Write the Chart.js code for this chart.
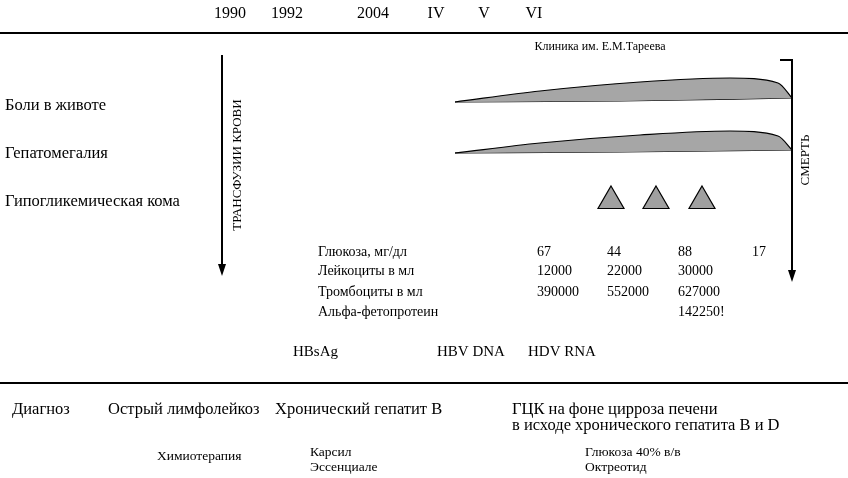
<!DOCTYPE html>
<html><head><meta charset="utf-8">
<script src="https://cdn.jsdelivr.net/npm/chart.js@4"></script>
<style>body{margin:0;background:#fff}#wrap{width:848px;height:478px}</style>
</head><body><div id="wrap"><canvas id="c"></canvas></div>
<script>
// timeline coordinates (x = position on time axis, y = row)
const years = [[230,'1990'],[287,'1992'],[373,'2004'],[436,'IV'],[484,'V'],[534,'VI']];
const symptoms = [[5,106,'Боли в животе'],[5,154,'Гепатомегалия'],[5,202,'Гипогликемическая кома']];
const labRows = ['Глюкоза, мг/дл','Лейкоциты в мл','Тромбоциты в мл','Альфа-фетопротеин'];
const labRowY = [252,271,292,312];
const labCols = [537,607,678,752];
const labValues = [['67','44','88','17'],['12000','22000','30000',''],['390000','552000','627000',''],['','','142250!','']];
const markers = [[293,'HBsAg'],[437,'HBV DNA'],[528,'HDV RNA']];
const diagnoses = [[12,410,'Диагноз'],[108,410,'Острый лимфолейкоз'],[275,410,'Хронический гепатит В'],[512,410,'ГЦК на фоне цирроза печени'],[512,426,'в исходе хронического гепатита В и D']];
const therapy = [[157,456,'Химиотерапия'],[310,452,'Карсил'],[310,467,'Эссенциале'],[585,452,'Глюкоза 40% в/в'],[585,467,'Октреотид']];
const comaEpisodes = [{x:611,y:201},{x:656,y:201},{x:702,y:201}];
const painTop = [{x:455,y:102},{x:540,y:91},{x:640,y:82},{x:730,y:78},{x:778,y:83},{x:792,y:98}];
const painBottom = [{x:455,y:102},{x:620,y:101},{x:792,y:98}];
const hepTop = [{x:455,y:153},{x:540,y:143},{x:640,y:135},{x:730,y:131},{x:778,y:136},{x:792,y:150}];
const hepBottom = [{x:455,y:153},{x:620,y:152},{x:792,y:150}];
const transfusion = [{x:222,y:55},{x:222,y:272}];
const death = [{x:780,y:60},{x:792,y:60},{x:792,y:278}];

const serif = '"Liberation Serif", "DejaVu Serif", serif';

const textPlugin = {
  id: 'texts',
  afterDatasetsDraw(chart) {
    const ctx = chart.ctx, xs = chart.scales.x, ys = chart.scales.y;
    const put = (x, y, t, size, align) => {
      ctx.font = size + 'px ' + serif;
      ctx.textAlign = align || 'left';
      ctx.textBaseline = 'middle';
      ctx.fillStyle = '#000';
      ctx.fillText(t, xs.getPixelForValue(x), ys.getPixelForValue(y));
    };
    ctx.save();
    years.forEach(([x, t]) => put(x, 14, t, 16, 'center'));
    put(600, 47, 'Клиника им. Е.М.Тареева', 12, 'center');
    symptoms.forEach(([x, y, t]) => put(x, y, t, 16.5));
    labRows.forEach((t, i) => put(318, labRowY[i], t, 14));
    labValues.forEach((row, i) => row.forEach((v, j) => { if (v) put(labCols[j], labRowY[i], v, 14); }));
    markers.forEach(([x, t]) => put(x, 352, t, 15));
    diagnoses.forEach(([x, y, t]) => put(x, y, t, 16.5));
    therapy.forEach(([x, y, t]) => put(x, y, t, 13.5));
    // rotated labels and arrow heads
    [[238, 165, 'ТРАНСФУЗИИ КРОВИ'], [806, 160, 'СМЕРТЬ']].forEach(([x, y, t]) => {
      ctx.save();
      ctx.translate(xs.getPixelForValue(x), ys.getPixelForValue(y));
      ctx.rotate(-Math.PI / 2);
      ctx.font = '13px ' + serif; ctx.textAlign = 'center'; ctx.textBaseline = 'middle';
      ctx.fillText(t, 0, 0);
      ctx.restore();
    });
    [transfusion[1], death[2]].forEach(p => {
      const px = xs.getPixelForValue(p.x), py = ys.getPixelForValue(p.y);
      ctx.beginPath(); ctx.moveTo(px - 4, py - 8); ctx.lineTo(px + 4, py - 8); ctx.lineTo(px, py + 4); ctx.closePath();
      ctx.fill();
    });
    ctx.restore();
  }
};

const lens = (data, fill) => ({type: 'line', data, borderColor: '#000', borderWidth: 1.2, pointRadius: 0, tension: 0.4, cubicInterpolationMode: 'monotone', fill, backgroundColor: '#a6a6a6'});
const straight = (data, w) => ({type: 'line', data, borderColor: '#000', borderWidth: w, pointRadius: 0, tension: 0, fill: false});

new Chart(document.getElementById('c'), {
  type: 'scatter',
  data: {datasets: [
    lens(painTop, '+1'), lens(painBottom, false),
    lens(hepTop, '+1'), lens(hepBottom, false),
    straight([{x:0,y:33},{x:848,y:33}], 2),
    straight([{x:0,y:383},{x:848,y:383}], 2),
    straight(transfusion, 2),
    straight(death, 2),
    {data: comaEpisodes, pointStyle: 'triangle', pointRadius: 15, backgroundColor: '#a0a0a0', borderColor: '#000', borderWidth: 1.2}
  ]},
  options: {
    animation: false, responsive: true, maintainAspectRatio: false,
    layout: {padding: 0, autoPadding: false},
    plugins: {legend: {display: false}, tooltip: {enabled: false}},
    scales: {
      x: {type: 'linear', min: 0, max: 848, display: false},
      y: {type: 'linear', min: 0, max: 478, reverse: true, display: false}
    }
  },
  plugins: [textPlugin]
});
</script></body></html>
